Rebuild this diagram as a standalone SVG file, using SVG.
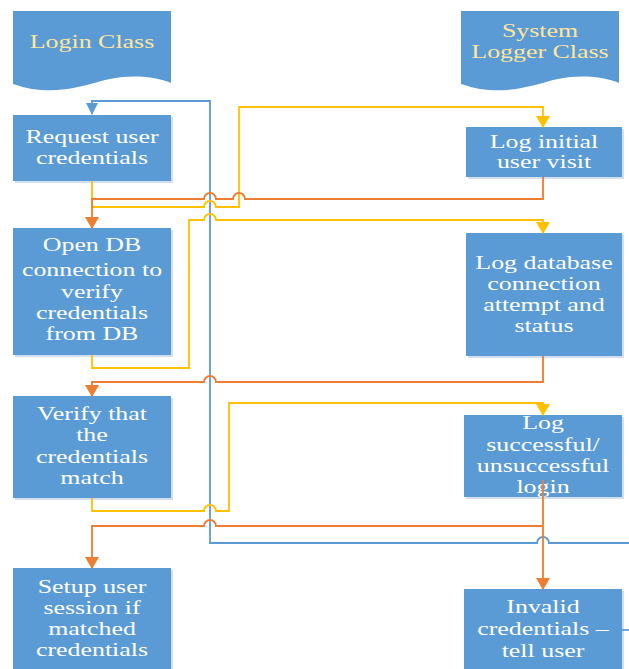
<svg xmlns="http://www.w3.org/2000/svg" width="629" height="669" viewBox="0 0 629 669">
<style>
.box{fill:#5B9BD5}
.sh{fill:#D3DFEF}
.t{font-family:"Liberation Serif","Times New Roman",serif;font-size:18.5px;fill:#FFFFFF;text-anchor:middle}
.h{font-family:"Liberation Serif","Times New Roman",serif;font-size:18.5px;fill:#FFE699;text-anchor:middle}
.c{fill:none;stroke-width:1.8;stroke-linejoin:miter}
.b{stroke:#5B9BD5}
.o{stroke:#ED7D31}
.y{stroke:#FFC000}
</style>
<defs>
<marker id="ab" viewBox="0 0 12 12" refX="11" refY="6" markerWidth="12" markerHeight="12" markerUnits="userSpaceOnUse" orient="auto"><path d="M0,0 L12,6 L0,12 Z" fill="#5B9BD5"/></marker>
<marker id="ao" viewBox="0 0 12 14" refX="11" refY="7" markerWidth="12" markerHeight="14" markerUnits="userSpaceOnUse" orient="auto"><path d="M0,0 L12,7 L0,14 Z" fill="#ED7D31"/></marker>
<marker id="ay" viewBox="0 0 12 14" refX="11" refY="7" markerWidth="12" markerHeight="14" markerUnits="userSpaceOnUse" orient="auto"><path d="M0,0 L12,7 L0,14 Z" fill="#FFC000"/></marker>
</defs>
<rect width="629" height="669" fill="#FFFFFF"/>

<g id="login-class">
<path class="box" d="M13,11 H171 V83 C155,76 130,74 105,80 C80,87 50,97 13,84 Z"/>
<text class="h" transform="translate(92 0) scale(1.4 1)"><tspan x="0" y="48">Login Class</tspan></text>
</g>
<g id="logger-class">
<path class="box" d="M461,11 H619 V83 C603,76 578,74 553,80 C528,87 498,97 461,84 Z"/>
<text class="h" transform="translate(540 0) scale(1.4 1)"><tspan x="0" y="37">System</tspan><tspan x="0" y="58">Logger Class</tspan></text>
</g>

<g id="request">
<rect class="sh" x="15" y="117" width="158" height="66"/>
<rect class="box" x="13" y="115" width="158" height="66"/>
<text class="t" transform="translate(92 0) scale(1.4 1)"><tspan x="0" y="143">Request user</tspan><tspan x="0" y="164">credentials</tspan></text>
</g>
<g id="opendb">
<rect class="sh" x="15" y="230" width="158" height="127"/>
<rect class="box" x="13" y="228" width="158" height="127"/>
<text class="t" transform="translate(92 0) scale(1.4 1)"><tspan x="0" y="251">Open DB</tspan><tspan x="0" y="276">connection to</tspan><tspan x="0" y="298">verify</tspan><tspan x="0" y="319">credentials</tspan><tspan x="0" y="340">from DB</tspan></text>
</g>
<g id="verify">
<rect class="sh" x="15" y="398" width="158" height="102"/>
<rect class="box" x="13" y="396" width="158" height="102"/>
<text class="t" transform="translate(92 0) scale(1.4 1)"><tspan x="0" y="420">Verify that</tspan><tspan x="0" y="441">the</tspan><tspan x="0" y="463">credentials</tspan><tspan x="0" y="484">match</tspan></text>
</g>
<g id="setup">
<rect class="sh" x="15" y="570" width="158" height="110"/>
<rect class="box" x="13" y="568" width="158" height="110"/>
<text class="t" transform="translate(92 0) scale(1.4 1)"><tspan x="0" y="593">Setup user</tspan><tspan x="0" y="614">session if</tspan><tspan x="0" y="635">matched</tspan><tspan x="0" y="656">credentials</tspan></text>
</g>

<g id="log-initial">
<rect class="sh" x="468" y="129" width="156" height="50"/>
<rect class="box" x="466" y="127" width="156" height="50"/>
<text class="t" transform="translate(544 0) scale(1.4 1)"><tspan x="0" y="148">Log initial</tspan><tspan x="0" y="168">user visit</tspan></text>
</g>
<g id="log-db">
<rect class="sh" x="468" y="235" width="156" height="123"/>
<rect class="box" x="466" y="233" width="156" height="123"/>
<text class="t" transform="translate(544 0) scale(1.4 1)"><tspan x="0" y="269">Log database</tspan><tspan x="0" y="290">connection</tspan><tspan x="0" y="311">attempt and</tspan><tspan x="0" y="332">status</tspan></text>
</g>
<g id="log-login">
<rect class="sh" x="466" y="417" width="158" height="82"/>
<rect class="box" x="464" y="415" width="158" height="82"/>
<text class="t" transform="translate(543 0) scale(1.4 1)"><tspan x="0" y="429">Log</tspan><tspan x="0" y="451">successful/</tspan><tspan x="0" y="472">unsuccessful</tspan><tspan x="0" y="493">login</tspan></text>
</g>
<g id="invalid">
<rect class="sh" x="466" y="591" width="158" height="90"/>
<rect class="box" x="464" y="589" width="158" height="90"/>
<text class="t" transform="translate(543 0) scale(1.4 1)"><tspan x="0" y="613">Invalid</tspan><tspan x="0" y="635">credentials –</tspan><tspan x="0" y="657">tell user</tspan></text>
</g>

<g id="connectors">
<path class="c b" d="M629,543 H549 A6,6 0 0 0 537,543 H210 V101 H92 V114" marker-end="url(#ab)"/>
<path class="c b" d="M622,630 H629"/>
<path class="c y" d="M92,181 V207 H204 A6,6 0 0 1 216,207 H239 V107 H543 V127" marker-end="url(#ay)"/>
<path class="c y" d="M92,355 V368 H189 V220 H204 A6,6 0 0 1 216,220 H543 V233" marker-end="url(#ay)"/>
<path class="c y" d="M92,498 V511 H204 A6,6 0 0 1 216,511 H229 V403 H543 V415" marker-end="url(#ay)"/>
<path class="c o" d="M543,177 V199 H245 A6,6 0 0 0 233,199 H216 A6,6 0 0 0 204,199 H92 V228" marker-end="url(#ao)"/>
<path class="c o" d="M543,356 V382 H216 A6,6 0 0 0 204,382 H92 V396" marker-end="url(#ao)"/>
<path class="c o" d="M543,526 H216 A6,6 0 0 0 204,526 H92 V568" marker-end="url(#ao)"/>
<path class="c o" d="M543,480 V589" marker-end="url(#ao)"/>
</g>
</svg>
